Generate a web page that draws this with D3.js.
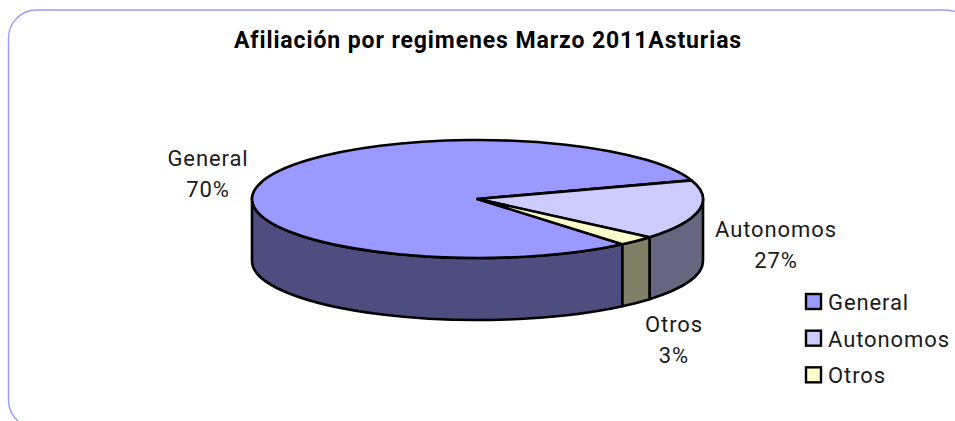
<!DOCTYPE html>
<html>
<head>
<meta charset="utf-8">
<script src="https://cdn.jsdelivr.net/npm/d3@7"></script>
<style>
html, body { margin: 0; padding: 0; background: #fff; overflow: hidden; }
svg { display: block; }
text { font-family: "Roboto", sans-serif; fill: #1a1a1a; letter-spacing: 0.9px; }
</style>
</head>
<body>
<script>
var chartTitle = "Afiliación por regimenes Marzo 2011Asturias";
var categories = ["General", "Autonomos", "Otros"];
// The percentages printed on the chart
var percentLabels = ["70%", "27%", "3%"];
// Shares as the slices are actually drawn in the picture (they differ from the printed labels)
var drawnShares = [81.0, 16.3, 2.7];
var topColors = ["#9999ff", "#ccccff", "#ffffcc"];
var sideColors = ["#4d4d80", "#666680", "#808066"];

var width = 955, height = 421;
var cx = 477.5, cy = 199, rx = 225.5, ry = 59, depth = 62;

var svg = d3.select("body")
	.append("svg")
		.attr("width", width)
		.attr("height", height);

// Frame, runs off the right and bottom of the picture
svg.append("rect")
	.attr("x", 8.5).attr("y", 10)
	.attr("width", 965).attr("height", 418)
	.attr("rx", 28).attr("ry", 28)
	.attr("fill", "#fff")
	.attr("stroke", "#9999ff")
	.attr("stroke-width", 1.4);

svg.append("text")
	.attr("x", 488).attr("y", 48)
	.attr("text-anchor", "middle")
	.attr("font-size", 23)
	.attr("font-weight", 700)
	.style("fill", "#000")
	.text(chartTitle);

var start = 140 * Math.PI / 180;
var pie = d3.pie().sort(null)
	.startAngle(start)
	.endAngle(start + 2 * Math.PI);
var slices = pie(drawnShares);

function px(a) { return cx + rx * Math.sin(a); }
function py(a) { return cy - ry * Math.cos(a); }

// Side wall of a slice, only the part that faces the front
function sidePath(d) {
	// Slices past a full turn wrap back to the start
	var shift = d.startAngle >= 2 * Math.PI ? 2 * Math.PI : 0;
	var a0 = Math.max(d.startAngle - shift, Math.PI / 2);
	var a1 = Math.min(d.endAngle - shift, 3 * Math.PI / 2);
	if (a1 <= a0) return null;
	return "M" + px(a0) + "," + py(a0)
		+ "A" + rx + "," + ry + " 0 0 1 " + px(a1) + "," + py(a1)
		+ "L" + px(a1) + "," + (py(a1) + depth)
		+ "A" + rx + "," + ry + " 0 0 0 " + px(a0) + "," + (py(a0) + depth)
		+ "Z";
}

svg.append("g")
	.selectAll("path")
	.data(slices)
	.enter().append("path")
		.attr("d", sidePath)
		.attr("fill", function(d, i) { return sideColors[i]; })
		.attr("stroke", "#000")
		.attr("stroke-width", 2.6)
		.attr("stroke-linejoin", "round");

// Top face: a d3 arc squashed into an ellipse
var arc = d3.arc().innerRadius(0).outerRadius(rx);
svg.append("g")
	.attr("transform", "translate(" + cx + "," + cy + ") scale(1," + (ry / rx) + ")")
	.selectAll("path")
	.data(slices)
	.enter().append("path")
		.attr("d", arc)
		.attr("fill", function(d, i) { return topColors[i]; })
		.attr("stroke", "#000")
		.attr("stroke-width", 2.6)
		.attr("stroke-linejoin", "round")
		.attr("vector-effect", "non-scaling-stroke");

// Data labels
var labelX = [208, 776, 674];
var labelY = [166, 237, 332];
var labels = svg.append("g")
	.selectAll("text")
	.data(categories)
	.enter().append("text")
		.attr("text-anchor", "middle")
		.attr("font-size", 22);
labels.append("tspan")
	.attr("x", function(d, i) { return labelX[i]; })
	.attr("y", function(d, i) { return labelY[i]; })
	.text(function(d) { return d; });
labels.append("tspan")
	.attr("x", function(d, i) { return labelX[i]; })
	.attr("y", function(d, i) { return labelY[i] + 31; })
	.text(function(d, i) { return percentLabels[i]; });

// Legend
var legend = d3.scaleBand()
	.domain(categories)
	.range([286, 396]);
var key = svg.append("g")
	.selectAll("g")
	.data(categories)
	.enter().append("g")
		.attr("transform", function(d) { return "translate(806," + legend(d) + ")"; });
key.append("rect")
	.attr("y", 8).attr("width", 15).attr("height", 15)
	.attr("fill", function(d, i) { return topColors[i]; })
	.attr("stroke", "#000")
	.attr("stroke-width", 2.4);
key.append("text")
	.attr("x", 22).attr("y", 24)
	.attr("font-size", 22)
	.text(function(d) { return d; });
</script>
</body>
</html>
